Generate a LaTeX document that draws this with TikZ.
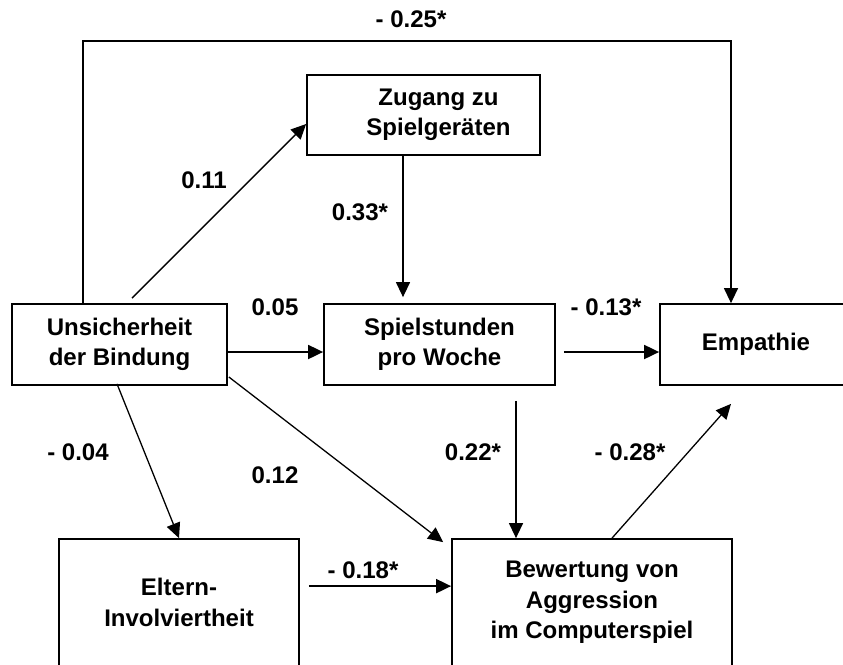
\documentclass[tikz,border=0pt]{standalone}
\usepackage{fontspec}
\setmainfont{Liberation Sans}
\usetikzlibrary{arrows.meta,calc}

\begin{document}
\begin{tikzpicture}[x=0.03cm, y=-0.03cm,%
  kasten/.style={draw, rectangle, line width=1.5pt, align=center, inner sep=0pt, font=\bfseries\fontsize{20.5pt}{26pt}\selectfont},%
  pfeil/.style={line width=1.1pt, -{Triangle[length=0.45cm, width=0.42cm]}},%
  dickpfeil/.style={pfeil, line width=1.6pt},%
  koeff/.style={font=\bfseries\fontsize{20.5pt}{26pt}\selectfont}]%
\useasboundingbox (0,0) rectangle (843,664);%
\clip (0,0) rectangle (843,664);%
\node[kasten, minimum width=6.99cm, minimum height=2.4cm] (zugang) at (423.5,115) {\hspace*{0.9cm}Zugang zu\\\hspace*{0.9cm}Spielgeräten};%
\node[kasten, minimum width=6.45cm, minimum height=2.43cm] (unsicher) at (119.5,344.5) {Unsicherheit\\der Bindung};%
\node[kasten, minimum width=6.93cm, minimum height=2.43cm] (spiel) at (439.5,344.5) {Spielstunden\\pro Woche};%
\node[kasten, minimum width=5.76cm, minimum height=2.43cm] (empathie) at (756,344.5) {Empathie};%
\node[kasten, minimum width=7.2cm, minimum height=3.81cm] (eltern) at (179,602.5) {Eltern-\\Involviertheit};%
\node[kasten, minimum width=8.4cm, minimum height=3.81cm] (bewertung) at (592,602.5) {Bewertung von\\Aggression\\im Computerspiel};%
\coordinate (knick) at (83,41);%
\draw[pfeil] ($(unsicher.north)+(-36.5,0)$) |- (knick) -| ($(empathie.north)+(-25,0)$);%
\draw[pfeil] ($(unsicher.north)+(12.5,-5)$) -- ($(zugang.west)+(0,9)$);%
\draw[pfeil] ($(zugang.south)+(-20.5,0)$) -- ($(spiel.north)+(-36.5,-6)$);%
\draw[dickpfeil] ($(unsicher.east)+(0,7.5)$) -- ($(spiel.west)+(0,7.5)$);%
\draw[dickpfeil] ($(spiel.east)+(8,7.5)$) -- ($(empathie.west)+(0,7.5)$);%
\draw[pfeil] ($(unsicher.south)+(-2.5,-2)$) -- (eltern.north);%
\draw[pfeil] ($(unsicher.east)+(1,32.5)$) -- ($(bewertung.north west)+(-8,4)$);%
\draw[pfeil] ($(spiel.south)+(76.5,15)$) -- ($(bewertung.north)+(-76,0)$);%
\draw[pfeil] ($(bewertung.north)+(20,0)$) -- ($(empathie.south)+(-25,18)$);%
\draw[dickpfeil] ($(eltern.north east)+(9,48)$) -- ($(bewertung.north west)+(0,48)$);%
\node[koeff] (k1) at (411,19) {- 0.25*};%
\node[koeff] (k2) at (204,180) {0.11};%
\node[koeff] (k3) at (360,212) {0.33*};%
\node[koeff] (k4) at (275,307) {0.05};%
\node[koeff] (k5) at (606,307) {- 0.13*};%
\node[koeff] (k6) at (78,452) {- 0.04};%
\node[koeff] (k7) at (275,475) {0.12};%
\node[koeff] (k8) at (473,452) {0.22*};%
\node[koeff] (k9) at (630,452) {- 0.28*};%
\node[koeff] (k10) at (363,570) {- 0.18*};%
\end{tikzpicture}
\end{document}
